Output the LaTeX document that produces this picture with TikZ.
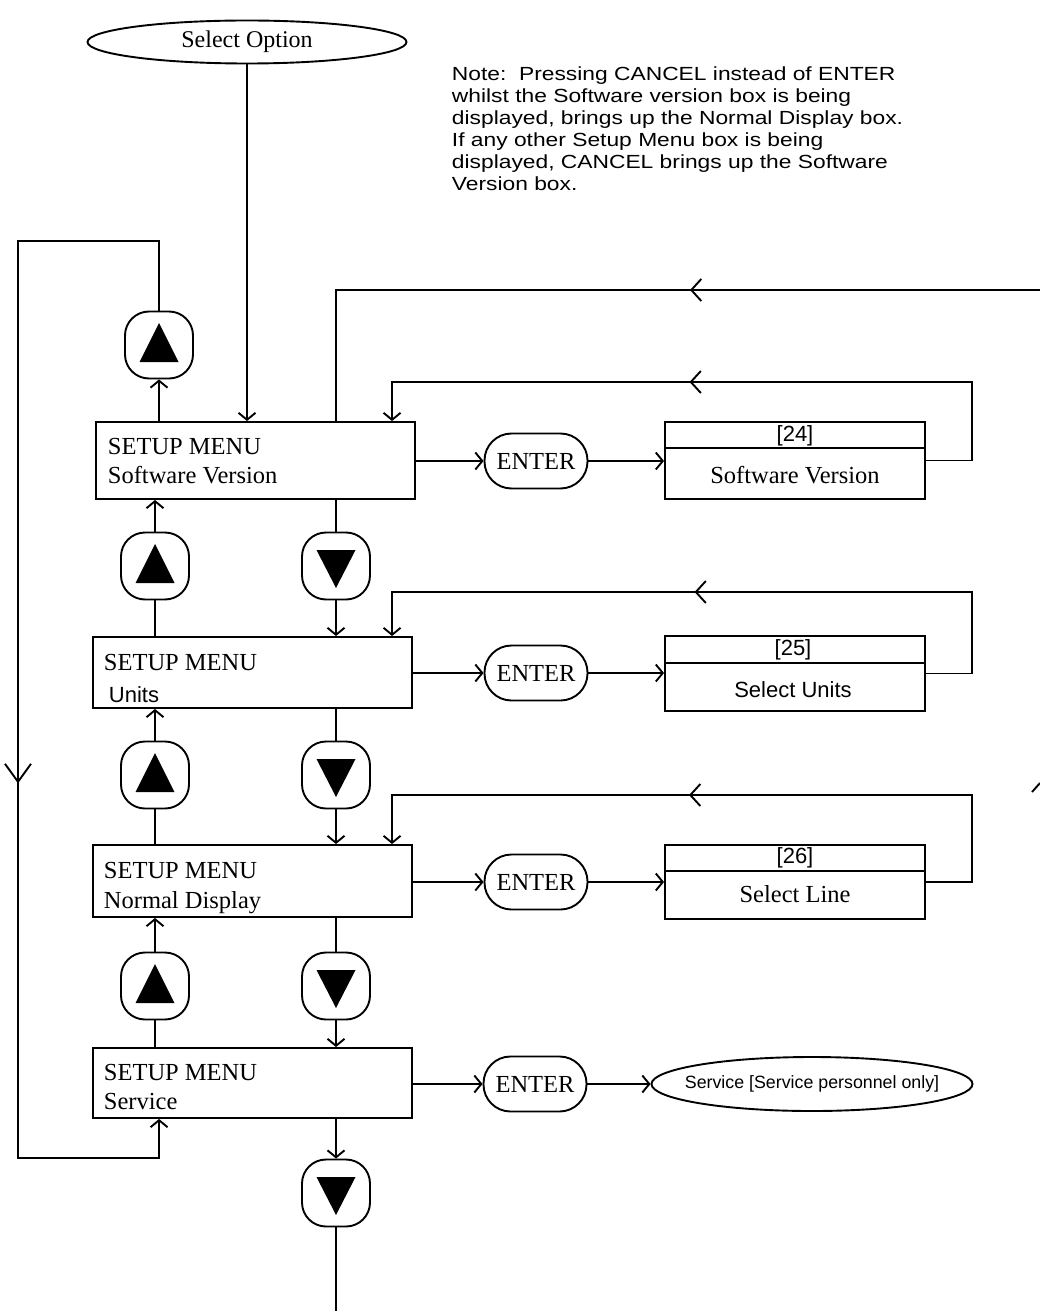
\documentclass[tikz,border=0pt]{standalone}
\usepackage{fontspec}
\setmainfont{Liberation Serif}
\newfontfamily\sansf{Liberation Sans}
\newfontfamily\notef[FakeStretch=1.2]{Liberation Sans}
\usetikzlibrary{arrows.meta,shapes.geometric,decorations.markings}
\tikzset{
  ln/.style={line width=1.9pt},
  tip/.style={-{Straight Barb[length=7pt,width=17pt]}},
  midarrow/.style={postaction={decorate},decoration={markings,mark=at position #1 with {\arrow{Straight Barb[length=10pt,width=22pt]}}}},
  bigmid/.style={postaction={decorate},decoration={markings,mark=at position #1 with {\arrow{Straight Barb[length=18pt,width=26pt]}}}},
  serif/.style={font=\fontsize{24.5}{28}\selectfont},
  sanstxt/.style={font=\sansf\fontsize{22}{25}\selectfont},
  menubox/.style={draw,line width=1.9pt,minimum width=319pt,inner sep=0pt},
  rbox/.style={draw,line width=1.9pt,minimum width=260pt,inner sep=0pt},
  enterbox/.style={draw,line width=1.9pt,rounded corners=27pt,minimum width=103pt,minimum height=55pt,inner sep=0pt,serif},
  btn/.style={draw,line width=1.9pt,rounded corners=24pt,minimum width=68pt,minimum height=67pt,inner sep=0pt},
  lbl/.style={anchor=base west,inner sep=0pt,serif},
  oval/.style={draw,line width=1.9pt,ellipse,inner sep=0pt}
}
\newcommand{\uptri}[1]{\fill ([shift={(0,-22)}]#1.center) -- ([shift={(19.5,17)}]#1.center) -- ([shift={(-19.5,17)}]#1.center) -- cycle;}
\newcommand{\downtri}[1]{\fill ([shift={(-19.5,-16)}]#1.center) -- ([shift={(19.5,-16)}]#1.center) -- ([shift={(0,22)}]#1.center) -- cycle;}
\begin{document}
\begin{tikzpicture}[x=1pt,y=-1pt,ln]
\useasboundingbox (0,0) rectangle (1040,1313);
\fill[white] (0,0) rectangle (1040,1313);

% start
\node[oval,minimum width=319pt,minimum height=43pt,font=\fontsize{24}{27}\selectfont] (so) at (247,42) {Select Option};

% note
\node[anchor=base west,align=left,inner sep=0pt,font=\notef\fontsize{19}{22}\selectfont] (note) at (451,191)
 {Note:\ \ Pressing CANCEL instead of ENTER\\
  whilst the Software version box is being\\
  displayed, brings up the Normal Display box.\\
  If any other Setup Menu box is being\\
  displayed, CANCEL brings up the Software\\
  Version box.};

% menu boxes
\node[menubox,minimum height=77pt] (m1) at (255.5,460.5) {};
\node[menubox,minimum height=71pt] (m2) at (252.5,672.5) {};
\node[menubox,minimum height=72pt] (m3) at (252.5,881) {};
\node[menubox,minimum height=70pt] (m4) at (252.5,1083) {};

\node[lbl] (t1a) at (107,454) {SETUP MENU};
\node[lbl] (t1b) at (107,483) {Software Version};
\node[lbl] (t2a) at (103,670) {SETUP MENU};
\node[lbl,sanstxt] (t2b) at (108,702) {Units};
\node[lbl] (t3a) at (103,878) {SETUP MENU};
\node[lbl] (t3b) at (103,908) {Normal Display};
\node[lbl] (t4a) at (103,1080) {SETUP MENU};
\node[lbl] (t4b) at (103,1109) {Service};

% enter nodes
\node[enterbox] (e1) at (536,461) {ENTER};
\node[enterbox] (e2) at (536,673) {ENTER};
\node[enterbox] (e3) at (536,882) {ENTER};
\node[enterbox] (e4) at (535,1084) {ENTER};

% right boxes
\node[rbox,minimum height=77pt] (r1) at (795,460.5) {};
\node[rbox,minimum height=75pt] (r2) at (795,673.5) {};
\node[rbox,minimum height=74pt] (r3) at (795,882) {};
\draw (r1.north west) ++(0,27) -- ++(260,0);
\draw (r2.north west) ++(0,28) -- ++(260,0);
\draw (r3.north west) ++(0,27) -- ++(260,0);
\node[sanstxt,inner sep=0pt] (r1a) at (795,436) {[24]};
\node[serif,inner sep=0pt] (r1b) at (795,475) {Software Version};
\node[sanstxt,inner sep=0pt] (r2a) at (793,650) {[25]};
\node[sanstxt,inner sep=0pt] (r2b) at (793,690) {Select Units};
\node[sanstxt,inner sep=0pt] (r3a) at (795,858) {[26]};
\node[serif,inner sep=0pt] (r3b) at (795,894) {Select Line};

\node[oval,inner xsep=-14pt,minimum width=321pt,minimum height=54pt,font=\sansf\fontsize{17.8}{20}\selectfont] (sv) at (812,1084) {Service [Service personnel only]};

% buttons
\node[btn] (u0) at (159,345) {};
\node[btn] (u1) at (155,566) {};
\node[btn] (d1) at (336,566) {};
\node[btn] (u2) at (155,775) {};
\node[btn] (d2) at (336,775) {};
\node[btn] (u3) at (155,986) {};
\node[btn] (d3) at (336,986) {};
\node[btn] (d4) at (336,1193) {};
\uptri{u0}\uptri{u1}\uptri{u2}\uptri{u3}
\downtri{d1}\downtri{d2}\downtri{d3}\downtri{d4}

% connectors
\draw[tip] (so.south) -- ([xshift=-8.5pt]m1.north);
\draw[tip] (m1.north -| u0) -- (u0.south);
\coordinate (lt) at (18,241);
\coordinate (lb) at (18,1158);
\draw[tip,bigmid=753pt] (u0.north) |- (lt) -- (lb) -| ([xshift=67pt]m4.south west);
\coordinate (tr) at (1040,290);
\draw[midarrow=350pt] (tr) -| ([xshift=241pt]m1.north west);

\foreach \m/\e/\r in {m1/e1/r1,m2/e2/r2,m3/e3/r3}{
  \draw[tip] (\m.east |- \e) -- (\e.west);
  \draw[tip] (\e.east) -- (\r.west |- \e);
}
\draw[tip] (m4.east |- e4) -- (e4.west);
\draw[tip] (e4.east) -- (sv.west);

\coordinate (k1) at (972,382);
\coordinate (k2) at (972,592);
\coordinate (k3) at (972,795);
\draw[tip,midarrow=407pt] (r1.east) -| (k1) -| ([xshift=297pt]m1.north west);
\draw[tip,midarrow=405pt] (r2.east) -| (k2) -| ([xshift=300pt]m2.north west);
\draw[tip,midarrow=416pt] (r3.east) -| (k3) -| ([xshift=300pt]m3.north west);

% down chain
\draw (m1.south -| d1) -- (d1.north);
\draw[tip] (d1.south) -- (m2.north -| d1);
\draw (m2.south -| d2) -- (d2.north);
\draw[tip] (d2.south) -- (m3.north -| d2);
\draw (m3.south -| d3) -- (d3.north);
\draw[tip] (d3.south) -- (m4.north -| d3);
\draw[tip] (m4.south -| d4) -- (d4.north);
\coordinate (endb) at (336,1311);
\draw (d4.south) -- (endb);

% up chain
\draw (m2.north -| u1) -- (u1.south);
\draw[tip] (u1.north) -- (m1.south -| u1);
\draw (m3.north -| u2) -- (u2.south);
\draw[tip] (u2.north) -- (m2.south -| u2);
\draw (m4.north -| u3) -- (u3.south);
\draw[tip] (u3.north) -- (m3.south -| u3);

% stray stroke at right edge
\draw (1032,792) -- (1040,783);
\end{tikzpicture}
\end{document}
